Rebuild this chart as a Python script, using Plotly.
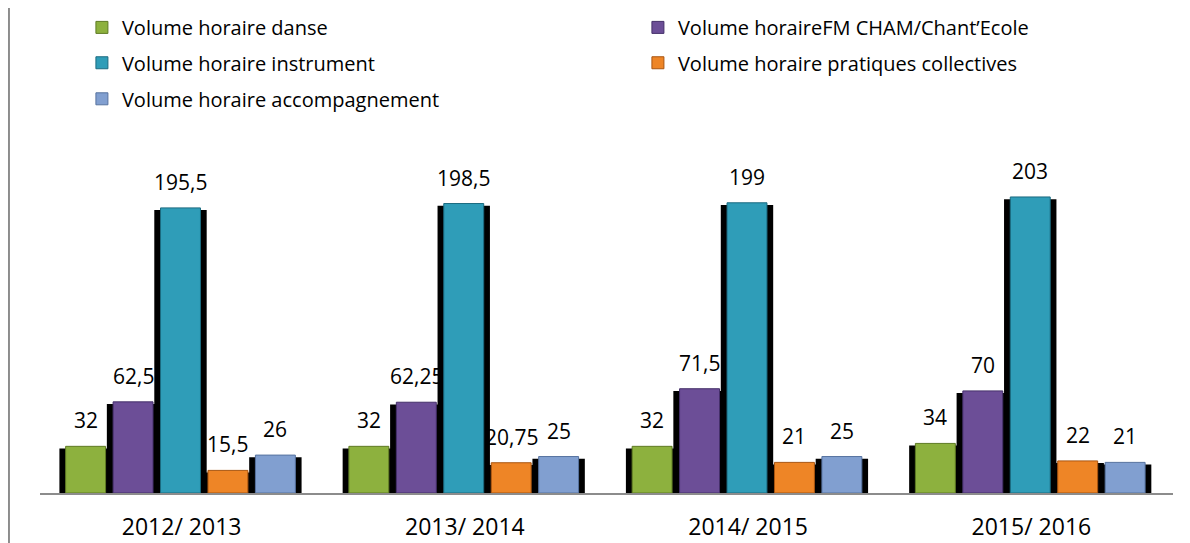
import plotly.graph_objects as go

categories = ["2012/ 2013", "2013/ 2014", "2014/ 2015", "2015/ 2016"]
series_names = [
    "Volume horaire danse",
    "Volume horaireFM CHAM/Chant\u2019Ecole",
    "Volume horaire instrument",
    "Volume horaire pratiques collectives",
    "Volume horaire accompagnement",
]
danse = [32, 32, 32, 34]
fm_cham = [62.5, 62.25, 71.5, 70]
instrument = [195.5, 198.5, 199, 203]
pratiques = [15.5, 20.75, 21, 22]
accompagnement = [26, 25, 25, 21]
series_values = [danse, fm_cham, instrument, pratiques, accompagnement]

colors = ["#8DB13E", "#6C4E97", "#2F9DB8", "#EE8526", "#819FD0"]
edges = ["#5E7A24", "#45306A", "#1C6B80", "#A95510", "#56729F"]

FONT = "Open Sans"
xs = list(range(len(categories)))
step = 0.1675
bw = 0.141
sw = 0.185
center_shift = -0.004

fig = go.Figure()

# shadows
for j, vals in enumerate(series_values):
    off = center_shift + (j - 2) * step
    fig.add_trace(go.Bar(
        x=xs, y=[v + 1.5 for v in vals], base=-3,
        width=sw, offset=off - sw / 2,
        marker=dict(color="#000000", line=dict(width=0)),
        showlegend=False, hoverinfo="skip",
    ))

legend_ids = ["legend", "legend", "legend2", "legend2", "legend3"]
for j, (name, vals) in enumerate(zip(series_names, series_values)):
    off = center_shift + (j - 2) * step
    fig.add_trace(go.Bar(
        x=xs, y=vals, name=name,
        width=bw, offset=off - bw / 2,
        marker=dict(color=colors[j], line=dict(color=edges[j], width=1)),
        legend=legend_ids[j],
    ))
    for i, v in enumerate(vals):
        txt = ("%g" % v).replace(".", ",")
        fig.add_annotation(
            x=xs[i] + off, y=v, text=txt, showarrow=False,
            yanchor="middle", yshift=26,
            font=dict(family=FONT, size=21, color="#000000"),
        )

leg_common = dict(
    orientation="h", xanchor="left", yanchor="top",
    font=dict(family=FONT, size=20, color="#000000"),
    bgcolor="rgba(0,0,0,0)", entrywidth=511, entrywidthmode="pixels",
    itemclick=False, itemdoubleclick=False,
)

fig.update_layout(
    width=1182, height=535,
    margin=dict(l=32, r=17, t=135, b=50, autoexpand=False),
    paper_bgcolor="#FFFFFF", plot_bgcolor="#FFFFFF",
    barmode="overlay",
    xaxis=dict(
        range=[-0.5, 3.5], tickvals=xs, ticktext=categories,
        showline=True, linecolor="#8C8C8C", linewidth=2,
        showgrid=False, zeroline=False, ticks="", ticklabelstandoff=12,
        tickfont=dict(family=FONT, size=23, color="#000000"),
        fixedrange=True,
    ),
    yaxis=dict(range=[0, 240], visible=False, fixedrange=True),
    legend=dict(x=0.037, y=1.386, **leg_common),
    legend2=dict(x=0.037, y=1.285, **leg_common),
    legend3=dict(x=0.037, y=1.182, **leg_common),
    showlegend=True,
)

# left border line of the chart frame
fig.add_shape(type="line", xref="paper", yref="paper",
              x0=-0.0274, x1=-0.0274, y0=-0.2, y1=1.5,
              line=dict(color="#8C8C8C", width=2))

fig.write_html("out.html")
